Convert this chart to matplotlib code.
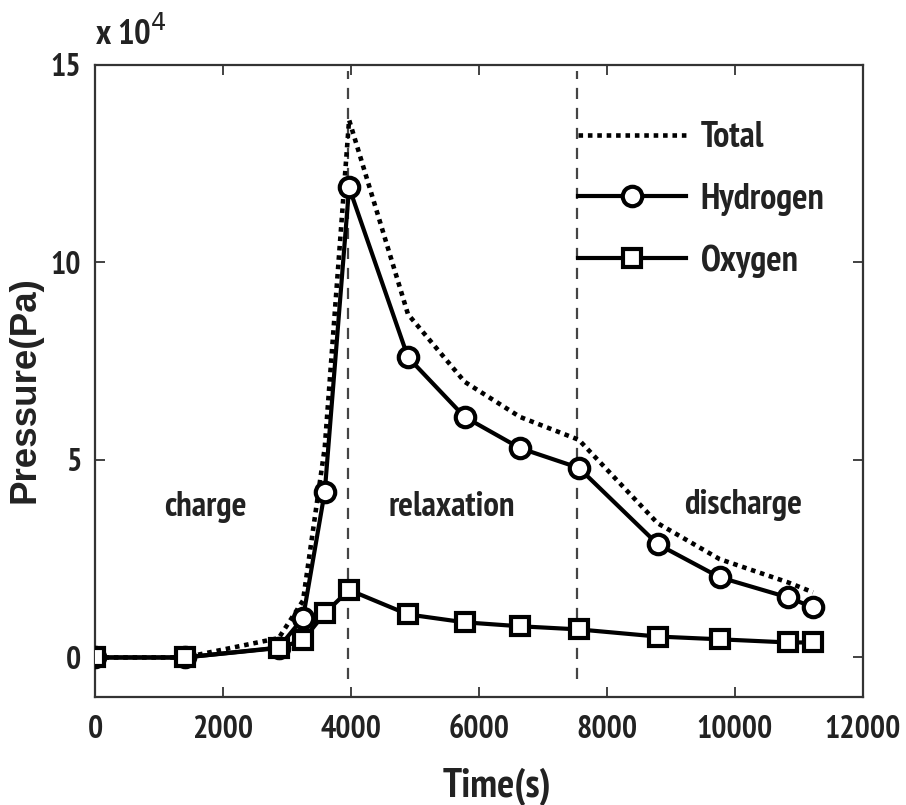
import matplotlib
matplotlib.use("Agg")
import matplotlib.pyplot as plt
import matplotlib.font_manager as fm
from matplotlib.ticker import FixedLocator, FuncFormatter

# ---- data (pressure in Pa) ----
time_s = [0, 1400, 2870, 3250, 3590, 3970, 4890, 5775, 6640, 7560, 8790, 9760, 10830, 11220]
hydrogen = [0, 0, 2500, 10000, 42000, 119000, 76000, 60900, 53000, 48000, 28700, 20300, 15200, 12700]
oxygen = [0, 0, 2400, 4400, 11200, 17100, 10900, 8900, 7900, 7100, 5300, 4600, 3800, 3800]
total = [0, 0, 4900, 14400, 53200, 136100, 86900, 69800, 60900, 55100, 34000, 24900, 19000, 16500]
phase_bounds = [3950, 7530]
phase_labels = ["charge", "relaxation", "discharge"]
phase_label_x = [1730, 5570, 10120]
phase_label_y = [38000, 38000, 38500]
x_ticks = [0, 2000, 4000, 6000, 8000, 10000, 12000]
y_ticks = [0, 50000, 100000, 150000]

NARROW_FAMILIES = ["Liberation Sans Narrow", "PT Sans Narrow", "Arial Narrow",
                   "Roboto Condensed", "Open Sans Condensed",
                   "IBM Plex Sans Condensed", "Archivo Narrow", "Asap Condensed"]


def find_narrow_bold():
    for fam in NARROW_FAMILIES:
        for f in fm.fontManager.ttflist:
            if f.name == fam and f.style == "normal" and f.weight in (700, "bold"):
                return f.fname
    return None


narrow_path = find_narrow_bold()


def fp(size):
    if narrow_path:
        return fm.FontProperties(fname=narrow_path, size=size)
    return fm.FontProperties(family="Liberation Sans", weight="bold", size=size * 0.82)


fig = plt.figure(figsize=(9.06, 8.05), dpi=100)
ax = fig.add_axes([0.1049, 0.1342, 0.8476, 0.7851])

ax.plot(time_s, total, color="black", lw=3.3, linestyle=(0, (1.0, 1.05)),
        label="Total", zorder=2)
ax.plot(time_s, hydrogen, color="black", lw=3, marker="o", markersize=14,
        markerfacecolor="white", markeredgewidth=3, label="Hydrogen", zorder=3)
ax.plot(time_s, oxygen, color="black", lw=3, marker="s", markersize=13,
        markerfacecolor="white", markeredgewidth=3, label="Oxygen", zorder=4)

for xb in phase_bounds:
    ax.vlines(xb, -5500, 148500, colors="#444444", linestyles=(0, (5, 4)),
              lw=1.6, zorder=1)

for lbl, lx, ly in zip(phase_labels, phase_label_x, phase_label_y):
    ax.text(lx, ly, lbl, ha="center", va="center", fontproperties=fp(25),
            color="#222222")

ax.set_xlim(0, 12000)
ax.set_ylim(-10000, 150000)
ax.xaxis.set_major_locator(FixedLocator(x_ticks))
ax.yaxis.set_major_locator(FixedLocator(y_ticks))
ax.yaxis.set_major_formatter(FuncFormatter(lambda v, p: f"{v/1e4:g}"))
ax.tick_params(direction="in", length=7, width=1.2, top=True, right=True,
               pad=10, colors="#222222")
ax.tick_params(axis="x", pad=13)
for lab in ax.get_xticklabels() + ax.get_yticklabels():
    lab.set_fontproperties(fp(23))
for sp in ax.spines.values():
    sp.set_linewidth(1.6)
    sp.set_color("#333333")

ax.set_xlabel("Time(s)", fontproperties=fp(29), color="#222222")
ax.xaxis.set_label_coords(0.523, -0.112)
ax.xaxis.label.set_va("top")
ax.set_ylabel("Pressure(Pa)", fontsize=26.5, fontweight="bold",
              family=["Liberation Sans", "DejaVu Sans"], color="#222222")
ax.yaxis.set_label_coords(-0.069, 0.486)

fig.text(95 / 906, 1 - 45 / 805, "x 10$^{4}$", fontproperties=fp(25),
         ha="left", va="baseline", color="#222222")

leg = ax.legend(loc="upper left", bbox_to_anchor=(0.629, 0.911), frameon=False,
                handlelength=3.0, handletextpad=0.4, labelspacing=0.79,
                borderpad=0, borderaxespad=0, prop=fp(26))
for t in leg.get_texts():
    t.set_color("#222222")

fig.savefig("out.png", dpi=100)
